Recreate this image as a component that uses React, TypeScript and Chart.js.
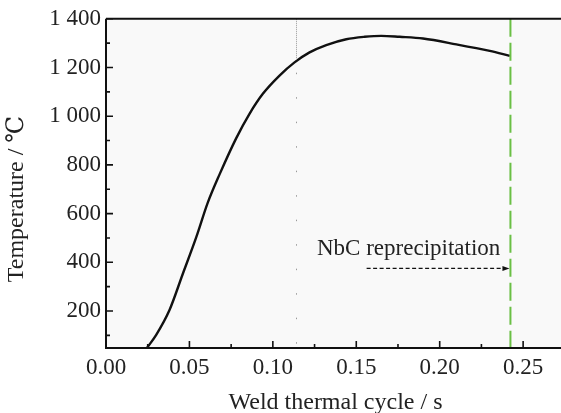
import React, { useEffect, useRef } from 'react';
import { Chart, registerables } from 'chart.js';

Chart.register(...registerables);

// ---- data ----
const timeS = [0.0245, 0.030, 0.038, 0.046, 0.054, 0.061, 0.068, 0.078, 0.086, 0.094, 0.104, 0.113, 0.122, 0.132, 0.144, 0.155, 0.165, 0.176, 0.190, 0.210, 0.230, 0.242];
const tempC = [48, 101, 203, 352, 501, 645, 760, 909, 1010, 1092, 1167, 1221, 1262, 1292, 1316, 1326, 1330, 1326, 1319, 1295, 1268, 1248];

const xMajorTicks = [0, 0.05, 0.1, 0.15, 0.2, 0.25];
const xMinorTicks = [0.025, 0.075, 0.125, 0.175, 0.225];
const yMajorTicks = [200, 400, 600, 800, 1000, 1200, 1400];
const yMinorTicks = [100, 300, 500, 700, 900, 1100, 1300];
const xRange = [0, 0.2727];
const yRange = [48, 1400];

const dottedLineX = 0.114;
const dottedDenseBelow = 1228;
const greenLineX = 0.2424;
const annotationText = 'NbC reprecipitation';
const annotationPos = [0.1814, 455];
const arrowFrom = [0.1562, 375];
const arrowTo = [0.2418, 375];

const xTitle = 'Weld thermal cycle / s';
const yTitle = 'Temperature / ℃';

const FONT = '"Liberation Serif", "DejaVu Serif", serif';

function fmtY(v: number): string {
  if (v >= 1000) return `${Math.floor(v / 1000)} ${String(v % 1000).padStart(3, '0')}`;
  return String(v);
}

const overlay = {
  id: 'overlay',
  beforeDraw(chart: any) {
    const { ctx, chartArea: a } = chart;
    ctx.save();
    ctx.fillStyle = '#f9f9f9';
    ctx.fillRect(a.left, a.top, a.right - a.left, a.bottom - a.top);
    ctx.restore();
  },
  afterDatasetsDraw(chart: any) {
    const { ctx, chartArea: a } = chart;
    const xs = chart.scales.x;
    const ys = chart.scales.y;
    ctx.save();

    // gray dotted vertical line
    const dx = Math.round(xs.getPixelForValue(dottedLineX)) + 0.5;
    const dyMid = ys.getPixelForValue(dottedDenseBelow);
    ctx.strokeStyle = '#9a9a9a';
    ctx.lineWidth = 1;
    ctx.setLineDash([1, 1]);
    ctx.beginPath();
    ctx.moveTo(dx, a.top);
    ctx.lineTo(dx, dyMid);
    ctx.stroke();
    ctx.setLineDash([1.5, 23]);
    ctx.beginPath();
    ctx.moveTo(dx, dyMid + 12);
    ctx.lineTo(dx, a.bottom);
    ctx.stroke();

    // green dashed vertical line
    const gx = xs.getPixelForValue(greenLineX);
    ctx.strokeStyle = '#6abf45';
    ctx.lineWidth = 2;
    ctx.setLineDash([18, 6]);
    ctx.beginPath();
    ctx.moveTo(gx, a.top);
    ctx.lineTo(gx, a.bottom);
    ctx.stroke();

    // arrow
    const ax0 = xs.getPixelForValue(arrowFrom[0]);
    const ay = ys.getPixelForValue(arrowFrom[1]);
    const ax1 = xs.getPixelForValue(arrowTo[0]);
    ctx.strokeStyle = '#111';
    ctx.lineWidth = 1.3;
    ctx.setLineDash([4, 2.5]);
    ctx.beginPath();
    ctx.moveTo(ax0, ay);
    ctx.lineTo(ax1 - 5, ay);
    ctx.stroke();
    ctx.setLineDash([]);
    ctx.fillStyle = '#111';
    ctx.beginPath();
    ctx.moveTo(ax1, ay);
    ctx.lineTo(ax1 - 7, ay - 2.5);
    ctx.lineTo(ax1 - 7, ay + 2.5);
    ctx.closePath();
    ctx.fill();

    // annotation text
    ctx.fillStyle = '#222';
    ctx.font = `23px ${FONT}`;
    ctx.textAlign = 'center';
    ctx.textBaseline = 'middle';
    ctx.fillText(annotationText, xs.getPixelForValue(annotationPos[0]), ys.getPixelForValue(annotationPos[1]));

    // frame
    ctx.strokeStyle = '#111';
    ctx.lineWidth = 2;
    ctx.beginPath();
    ctx.moveTo(a.left, a.top);
    ctx.lineTo(a.right, a.top);
    ctx.moveTo(a.left, a.top);
    ctx.lineTo(a.left, a.bottom);
    ctx.lineTo(a.right, a.bottom);
    ctx.stroke();

    // ticks (inward)
    ctx.lineWidth = 1.6;
    ctx.beginPath();
    xMajorTicks.forEach((v) => {
      const px = xs.getPixelForValue(v);
      ctx.moveTo(px, a.bottom);
      ctx.lineTo(px, a.bottom - 7);
    });
    xMinorTicks.forEach((v) => {
      const px = xs.getPixelForValue(v);
      ctx.moveTo(px, a.bottom);
      ctx.lineTo(px, a.bottom - 4);
    });
    yMajorTicks.forEach((v) => {
      const py = ys.getPixelForValue(v);
      ctx.moveTo(a.left, py);
      ctx.lineTo(a.left + 7, py);
    });
    yMinorTicks.forEach((v) => {
      const py = ys.getPixelForValue(v);
      ctx.moveTo(a.left, py);
      ctx.lineTo(a.left + 4, py);
    });
    ctx.stroke();

    // axis titles
    ctx.fillStyle = '#222';
    ctx.font = `24px ${FONT}`;
    ctx.textAlign = 'center';
    ctx.textBaseline = 'alphabetic';
    ctx.fillText(xTitle, (a.left + a.right) / 2 + 2, 409);
    ctx.save();
    ctx.translate(23, 199);
    ctx.rotate(-Math.PI / 2);
    ctx.fillText(yTitle, 0, 0);
    ctx.restore();

    ctx.restore();
  },
};

export default function App() {
  const ref = useRef<HTMLCanvasElement | null>(null);

  useEffect(() => {
    document.body.style.margin = '0';
    const canvas = ref.current;
    if (!canvas) return;
    const chart = new Chart(canvas, {
      type: 'line',
      data: {
        datasets: [
          {
            data: timeS.map((t, i) => ({ x: t, y: tempC[i] })),
            borderColor: '#111',
            borderWidth: 2.4,
            pointRadius: 0,
            cubicInterpolationMode: 'monotone',
            fill: false,
          },
        ],
      },
      options: {
        responsive: false,
        animation: false,
        events: [],
        layout: { padding: { top: 16, right: 0, left: 0, bottom: 0 } },
        plugins: { legend: { display: false }, tooltip: { enabled: false } },
        scales: {
          x: {
            type: 'linear',
            min: xRange[0],
            max: xRange[1],
            grid: { display: false, drawTicks: false },
            border: { display: false },
            afterBuildTicks: (s: any) => {
              s.ticks = xMajorTicks.map((v) => ({ value: v }));
            },
            afterFit: (s: any) => {
              s.height = 65;
            },
            ticks: {
              padding: 6,
              color: '#222',
              font: { family: FONT, size: 23 },
              maxRotation: 0,
              callback: (v: any) => Number(v).toFixed(2),
            },
          },
          y: {
            type: 'linear',
            min: yRange[0],
            max: yRange[1],
            grid: { display: false, drawTicks: false },
            border: { display: false },
            afterBuildTicks: (s: any) => {
              s.ticks = yMajorTicks.map((v) => ({ value: v }));
            },
            afterFit: (s: any) => {
              s.width = 106;
            },
            ticks: {
              padding: 5,
              color: '#222',
              font: { family: FONT, size: 23 },
              callback: (v: any) => fmtY(Number(v)),
            },
          },
        },
      },
      plugins: [overlay],
    });
    return () => chart.destroy();
  }, []);

  return (
    <div style={{ width: 561, height: 413, position: 'relative' }}>
      <canvas ref={ref} width={561} height={413} style={{ display: 'block' }} />
    </div>
  );
}
